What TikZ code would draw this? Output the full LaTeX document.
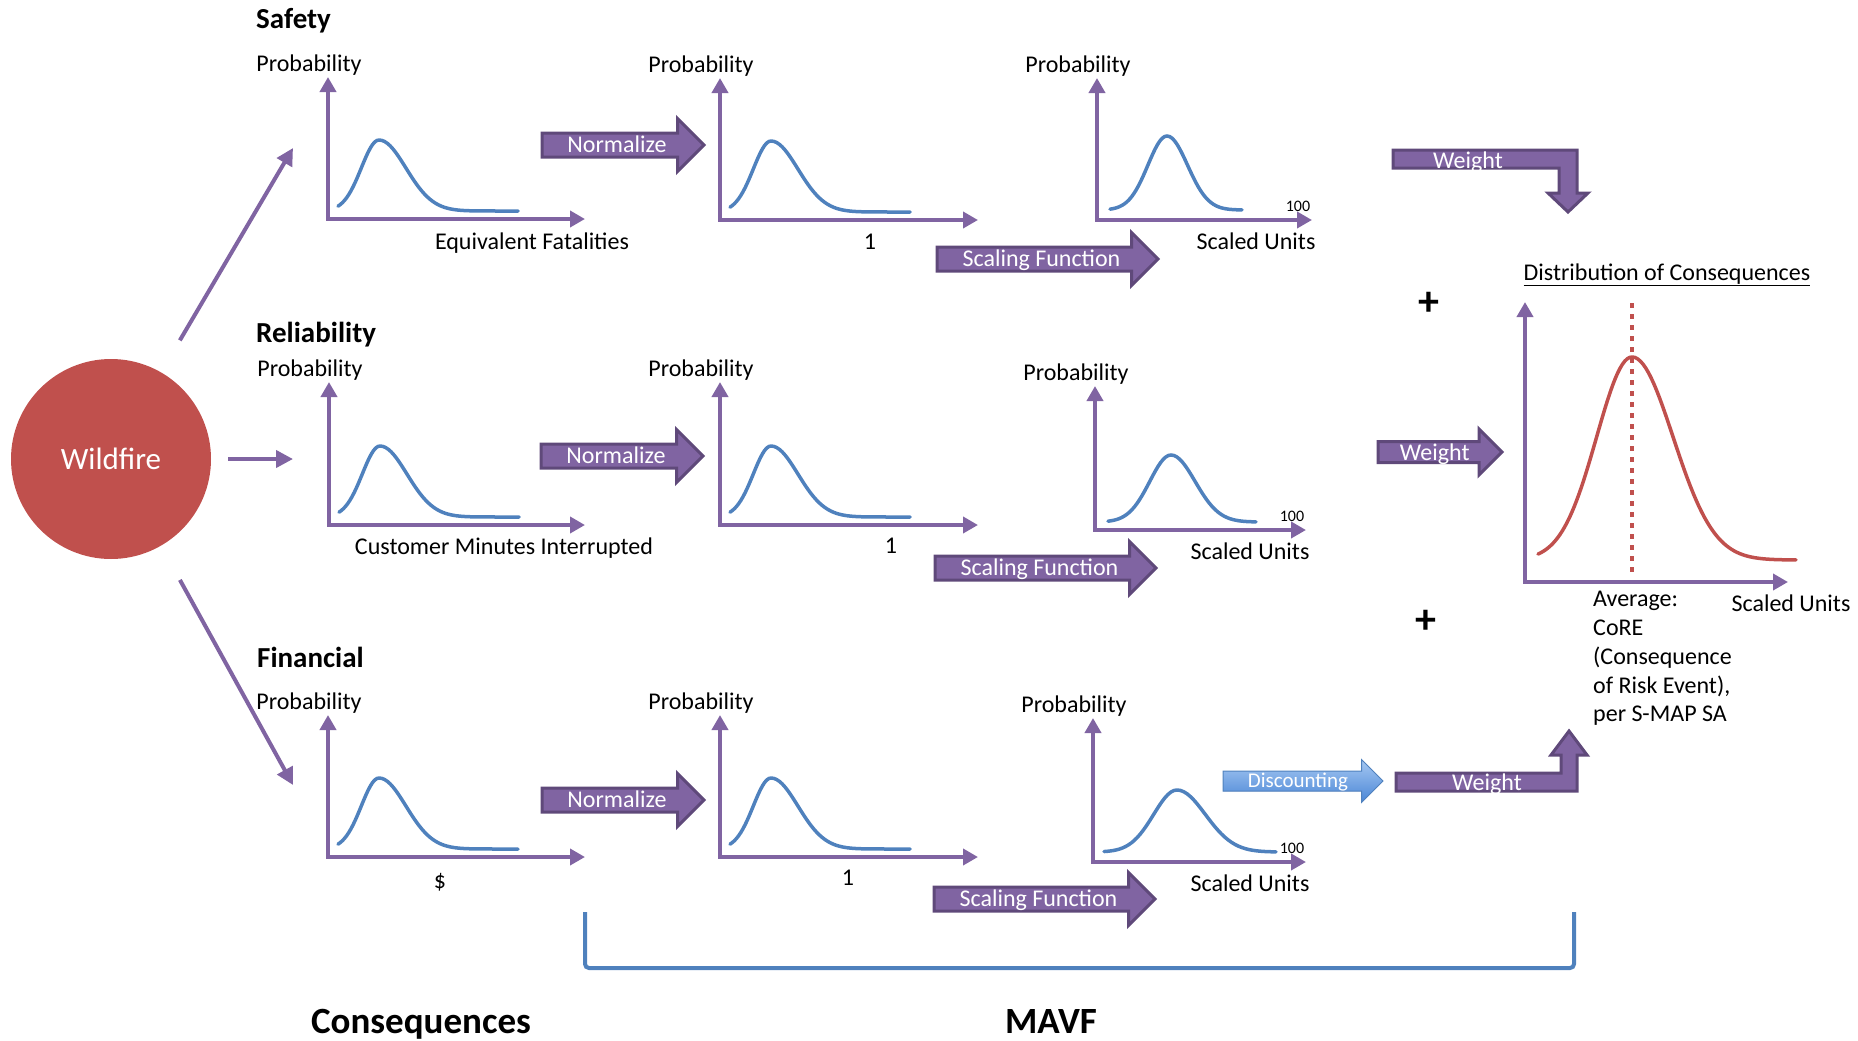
\documentclass[tikz,border=0pt]{standalone}
\usepackage{fontspec}
\setmainfont{Carlito}
\usetikzlibrary{arrows.meta,positioning,shapes.arrows}
\definecolor{purp}{HTML}{8064A2}
\definecolor{purpdark}{HTML}{5F497A}
\definecolor{bellblue}{HTML}{4F81BD}
\definecolor{firered}{HTML}{C0504D}
\definecolor{disctop}{HTML}{A6C8F2}
\definecolor{discbot}{HTML}{4A86D6}
\tikzset{font=\fontsize{24}{28.8}\selectfont}
\tikzstyle{axis}=[purp,line width=4.5pt,line join=miter,{Triangle[length=15pt,width=16pt]}-{Triangle[length=15pt,width=16pt]}]
\tikzstyle{bell}=[bellblue,line width=3.5pt,line cap=round]
\tikzstyle{link}=[purp,line width=4pt,-{Triangle[length=17pt,width=17pt]}]
\tikzstyle{heading}=[anchor=west,inner sep=0pt,font=\fontsize{29}{34}\selectfont\bfseries]
\tikzstyle{bigheading}=[anchor=base,font=\fontsize{37}{44}\selectfont\bfseries]
\tikzstyle{fat}=[single arrow,single arrow head extend=14.5pt,fill=purp,draw=purpdark,line width=3pt,text=white,inner ysep=1pt,inner xsep=4pt,text height=17pt,text depth=2pt,outer sep=0pt,anchor=tail]
\tikzstyle{fatbent}=[fill=purp,draw=purpdark,line width=3pt,line join=miter]
\tikzstyle{small}=[font=\fontsize{16}{19}\selectfont]

\begin{document}
\begin{tikzpicture}[x=1pt,y=-1pt]
\useasboundingbox (0,0) rectangle (1858,1041);
% source and the three branches
\node[circle,fill=firered,minimum size=200pt,text=white,font=\fontsize{31}{37}\selectfont] (wild) at (111,459) {Wildfire};
\coordinate (safin) at (293,148);
\coordinate (relin) at (293,459);
\coordinate (finin) at (293,785);
\draw[link,shorten <=37pt] (wild.60) -- (safin);
\draw[link,shorten <=17pt] (wild.east) -- (relin);
\draw[link,shorten <=39pt] (wild.-60) -- (finin);
\node[heading] (safety) at (256,21) {Safety};
\node[heading] (reliab) at (256,335) {Reliability};
\node[heading] (financ) at (257,657) {Financial};
% consequence and normalized charts
\foreach \ox/\oy/\ty/\tx [count=\i] in {328/219/77/585, 720/220/78/978, 329/525/382/585, 720/525/382/978, 328/857/715/585, 720/857/715/978} {
  \draw[axis] (\ox,\ty) -- (\ox,\oy) -- (\tx,\oy);
  \draw[bell,shift={(\ox,\oy)}] plot[domain=10:51,samples=20] (\x,{-8-71*exp(0-((\x-51)/25)^2)})
    -- plot[domain=51:190,samples=50] (\x,{-8-71*exp(0-((\x-51)/38)^2)});
  \node (prob\i) at (\ox-19,\ty-12) {Probability};
}
% scaled charts
\foreach \ox/\oy/\ty/\tx/\xs/\px/\xe/\bz/\hh/\wa/\wb [count=\i] in {1097/220/78/1312/13/70/145/10/74/27/29, 1095/530/386/1306/13/76/161/8/67/30/34, 1093/862/718/1306/11/84/183/10/62/33/40} {
  \draw[axis] (\ox,\ty) -- (\ox,\oy) -- (\tx,\oy);
  \draw[bell,shift={(\ox,\oy)}] plot[domain=\xs:\px,samples=25] (\x,{-\bz-\hh*exp(0-((\x-\px)/\wa)^2)})
    -- plot[domain=\px:\xe,samples=30] (\x,{-\bz-\hh*exp(0-((\x-\px)/\wb)^2)});
  \node (probs\i) at (\ox-19,\ty-12) {Probability};
  \node[small] (hundred\i) at (\tx-14,\oy-14) {100};
  \node (units\i) at (\tx-56,\oy+21) {Scaled Units};
}
\node (xsafe) at (532,243) {Equivalent Fatalities};
\node (xsafn) at (870,242) {1};
\node (xrele) at (504,548) {Customer Minutes Interrupted};
\node (xreln) at (891,546) {1};
\node (xfine) at (440,882) {\$};
\node (xfinn) at (848,878) {1};
% block arrows
\node[fat,minimum height=162pt] (norm1) at (542,145) {Normalize};
\node[fat,minimum height=162pt] (norm2) at (541,456) {Normalize};
\node[fat,minimum height=162pt] (norm3) at (542,800) {Normalize};
\node[fat,minimum height=221pt] (scale1) at (937,259) {Scaling Function};
\node[fat,minimum height=221pt] (scale2) at (935,568) {Scaling Function};
\node[fat,minimum height=221pt] (scale3) at (934,899) {Scaling Function};
\node[fat,minimum height=124pt,single arrow head extend=12.5pt,text height=17pt,text depth=0pt,inner ysep=0.5pt] (weight2) at (1378,452) {Weight};
\node[fat,minimum height=160pt,single arrow head extend=11.5pt,top color=disctop,bottom color=discbot,draw=bellblue,line width=1pt,text height=15pt,text depth=3pt,inner ysep=0.5pt,font=\fontsize{21}{25}\selectfont] (disc) at (1223,781) {Discounting};
\draw[fatbent] (1393,150) -- (1577,150) -- (1577,193) -- (1588,193) -- (1568,212) -- (1548,193) -- (1559,193) -- (1559,168) -- (1393,168) -- cycle;
\node[text=white,anchor=base] (weight1) at (1468,168) {Weight};
\draw[fatbent] (1396,773) -- (1561,773) -- (1561,755) -- (1551,755) -- (1569,731) -- (1587,755) -- (1577,755) -- (1577,791) -- (1396,791) -- cycle;
\node[text=white,anchor=base] (weight3) at (1487,790) {Weight};
% combined distribution
\node (dist) at (1667,275) {\underline{Distribution of Consequences}};
\draw[axis] (1525,302) -- (1525,582) -- (1788,582);
\draw[firered,line width=3.5pt,line cap=round,shift={(1525,582)}] plot[domain=13:107,samples=40] (\x,{-22-203*exp(0-((\x-107)/50)^2)})
  -- plot[domain=107:271,samples=60] (\x,{-22-203*exp(0-((\x-107)/58)^2)});
\draw[firered,line width=4.5pt,dash pattern=on 5pt off 6pt] (1632,303) -- (1632,577);
\node[anchor=west] (unitsres) at (1728,603) {Scaled Units};
\node[anchor=north west,align=left,inner sep=0pt] (core) at (1593,591) {Average:\\CoRE\\(Consequence\\of Risk Event),\\per S-MAP SA};
\node[font=\fontsize{42}{46}\selectfont\bfseries] (plus1) at (1429,304) {+};
\node[font=\fontsize{42}{46}\selectfont\bfseries] (plus2) at (1426,622) {+};
% bottom
\draw[bellblue,line width=4pt,rounded corners=4pt] (585,912) -- (585,968) -- (1574,968) -- (1574,912);
\node[bigheading] (conseq) at (421,1033) {Consequences};
\node[bigheading] (mavf) at (1051,1033) {MAVF};
\end{tikzpicture}
\end{document}
